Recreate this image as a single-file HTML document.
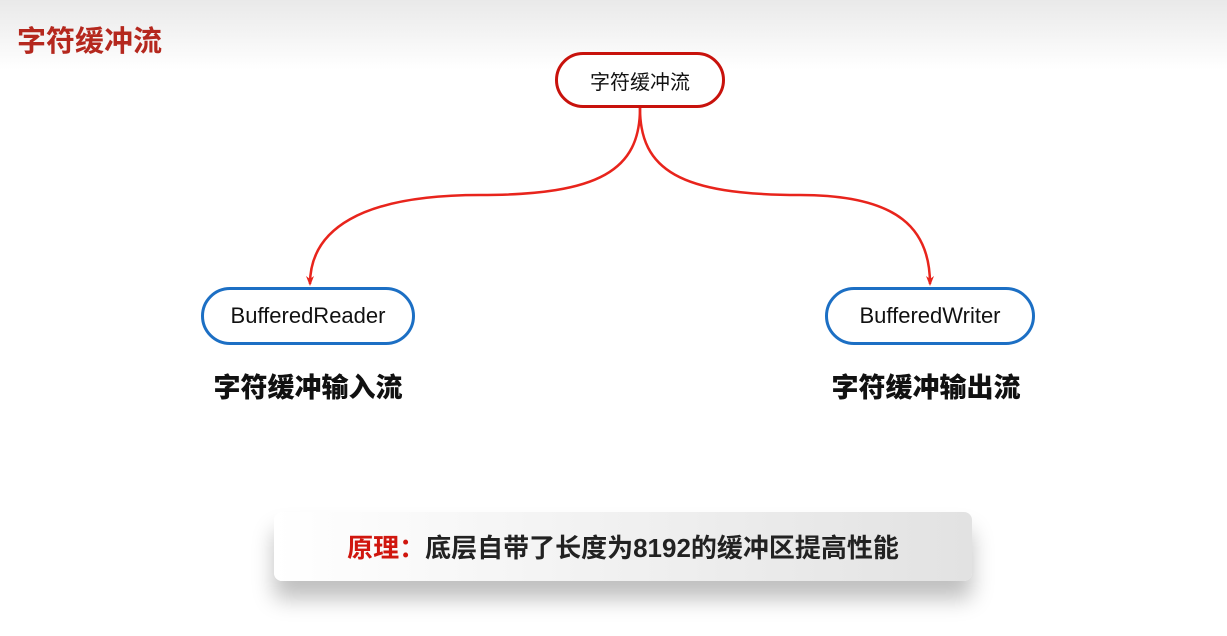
<!DOCTYPE html>
<html><head><meta charset="utf-8"><style>
html,body{margin:0;padding:0;}
body{width:1227px;height:636px;position:relative;overflow:hidden;background:#fff;font-family:"Liberation Sans","Noto Sans CJK SC",sans-serif;}
.top{position:absolute;left:0;top:0;width:1227px;height:70px;background:linear-gradient(#e9e9e9,#fff);}
.title{position:absolute;left:17px;top:18px;font-size:29px;font-weight:bold;color:#b5281e;}
.node{position:absolute;box-sizing:border-box;border-radius:30px;background:#fff;display:flex;align-items:center;justify-content:center;font-size:20px;color:#111;}
.lbl{position:absolute;font-size:27px;font-weight:900;color:#111;text-align:center;width:300px;}
.box{position:absolute;left:274px;top:512px;width:698px;height:69px;border-radius:8px;background:linear-gradient(90deg,#fff,#e2e2e2);box-shadow:0 18px 22px rgba(0,0,0,0.25);display:flex;align-items:center;justify-content:center;font-size:26px;font-weight:bold;color:#222;}
</style></head><body>
<div class="top"></div>
<div class="title">字符缓冲流</div>
<svg width="1227" height="636" style="position:absolute;left:0;top:0">
<path d="M640,108 C640,170 600,195 480,195 C360,195 310,230 310,284" fill="none" stroke="#e8241c" stroke-width="2.5"/>
<path d="M306,276 L310,286 L314,276 L310,279 Z" fill="#e8241c"/>
<path d="M640,108 C640,170 680,195 800,195 C900,195 930,230 930,284" fill="none" stroke="#e8241c" stroke-width="2.5"/>
<path d="M926,276 L930,286 L934,276 L930,279 Z" fill="#e8241c"/>
</svg>
<div class="node" style="left:555px;top:52px;width:170px;height:56px;border:3px solid #c8120c;">字符缓冲流</div>
<div class="node" style="left:201px;top:287px;width:214px;height:58px;border:3px solid #1c6fc4;font-size:22px;">BufferedReader</div>
<div class="node" style="left:825px;top:287px;width:210px;height:58px;border:3px solid #1c6fc4;font-size:22px;">BufferedWriter</div>
<div class="lbl" style="left:158px;top:366px;">字符缓冲输入流</div>
<div class="lbl" style="left:776px;top:366px;">字符缓冲输出流</div>
<div class="box"><span style="color:#d0160e">原理：</span>底层自带了长度为8192的缓冲区提高性能</div>
</body></html>
